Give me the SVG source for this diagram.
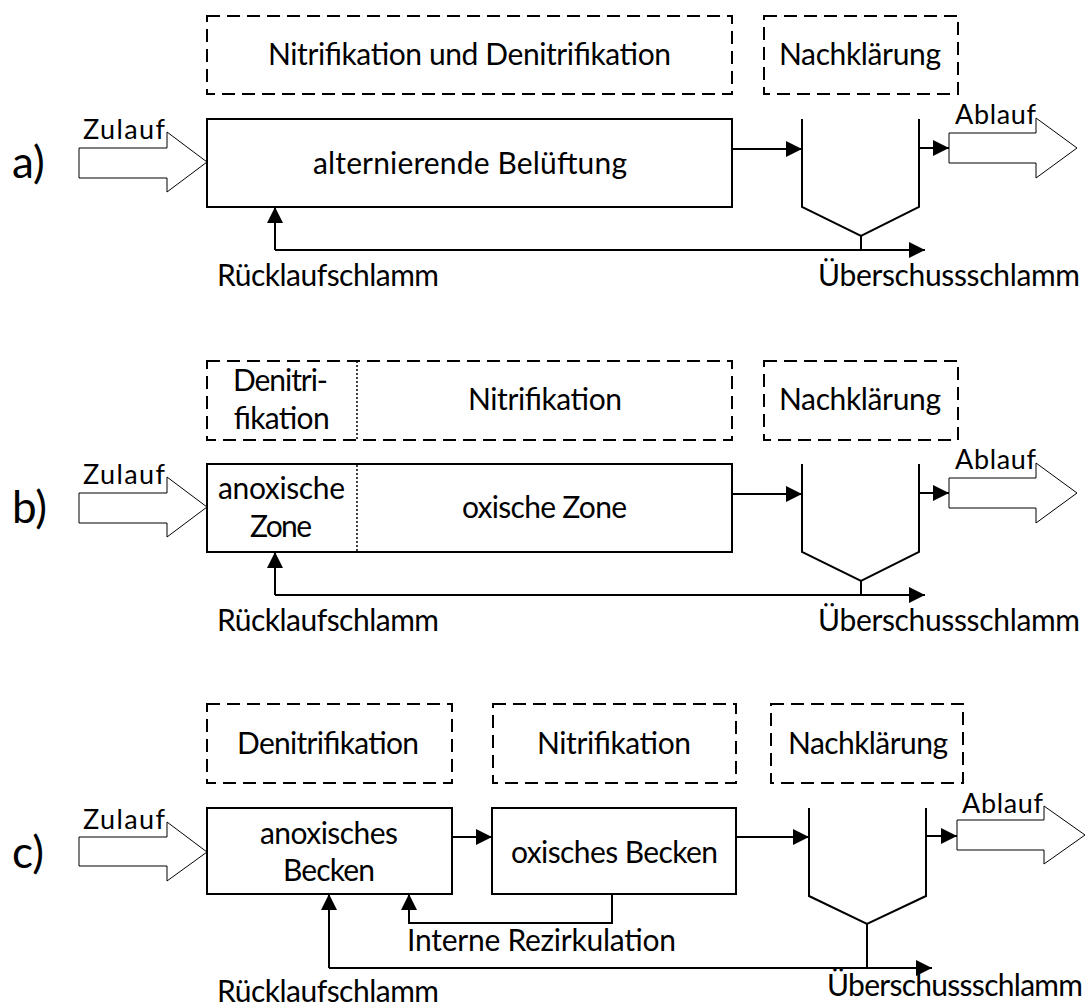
<svg xmlns="http://www.w3.org/2000/svg" width="1088" height="1007" viewBox="0 0 1088 1007">
<style>
text{font-family:Lato,"Liberation Sans",sans-serif;fill:#000}
.t{font-size:30px}
.s{font-size:27px}
.big{font-size:44px}
.box{fill:#fff;stroke:#000;stroke-width:2}
.dash{fill:none;stroke:#000;stroke-width:2;stroke-dasharray:13 7}
.dot{fill:none;stroke:#000;stroke-width:1.5;stroke-dasharray:2 2}
.ln{fill:none;stroke:#000;stroke-width:2}
.hol{fill:#fff;stroke:#000;stroke-width:1}
</style>
<defs>
<marker id="ah" viewBox="0 0 16 16" refX="16" refY="8" markerWidth="16" markerHeight="16" markerUnits="userSpaceOnUse" orient="auto">
<path d="M0,0 L16,8 L0,16 Z" fill="#000"/>
</marker>
</defs>

<!-- ===== a) ===== -->
<g id="label-a"><text class="big" x="12" y="178">a)</text></g>
<g id="a-zone-nd"><rect class="dash" x="207" y="16" width="525" height="78"/><text class="t" x="268" y="65" textLength="403">Nitrifikation und Denitrifikation</text></g>
<g id="a-zone-nk"><rect class="dash" x="764" y="16" width="194" height="78"/><text class="t" x="779" y="65" textLength="162">Nachklärung</text></g>
<g id="a-zulauf"><path class="hol" d="M79,148 H167 V132 L207,162 L167,192 V178 H79 Z"/><text class="s" x="83" y="139" textLength="82">Zulauf</text></g>
<g id="a-becken"><rect class="box" x="207" y="119" width="525" height="88"/><text class="t" x="313" y="174" textLength="314">alternierende Belüftung</text></g>
<g id="a-nk"><path class="ln" d="M802,119 V207 L861,236 L919,207 V119"/></g>
<g id="a-ablauf"><path class="hol" d="M949,133 H1036 V118 L1077,148 L1036,178 V163 H949 Z"/><text class="s" x="955" y="124" textLength="81">Ablauf</text></g>
<g id="a-texts"><text class="t" x="217" y="286" textLength="222">Rücklaufschlamm</text><text class="t" x="818" y="286" textLength="262">Überschussschlamm</text></g>

<!-- ===== b) ===== -->
<g id="label-b"><text class="big" x="12" y="523">b)</text></g>
<g id="b-zone"><rect class="dash" x="207" y="361" width="525" height="79"/><line class="dot" x1="357" y1="361" x2="357" y2="440"/>
<text class="t" x="233" y="391" textLength="95">Denitri-</text><text class="t" x="233" y="429" textLength="96">fikation</text>
<text class="t" x="468" y="410" textLength="154">Nitrifikation</text></g>
<g id="b-zone-nk"><rect class="dash" x="764" y="361" width="194" height="79"/><text class="t" x="779" y="410" textLength="162">Nachklärung</text></g>
<g id="b-zulauf"><path class="hol" d="M79,493 H167 V477 L207,507 L167,537 V523 H79 Z"/><text class="s" x="83" y="484" textLength="82">Zulauf</text></g>
<g id="b-becken"><rect class="box" x="207" y="464" width="525" height="88"/><line class="dot" x1="357" y1="465" x2="357" y2="551"/>
<text class="t" x="218" y="499" textLength="127">anoxische</text><text class="t" x="250" y="537" textLength="62">Zone</text>
<text class="t" x="462" y="518" textLength="165">oxische Zone</text></g>
<g id="b-nk"><path class="ln" d="M802,464 V552 L861,581 L919,552 V464"/></g>
<g id="b-ablauf"><path class="hol" d="M949,478 H1036 V463 L1077,493 L1036,523 V508 H949 Z"/><text class="s" x="955" y="469" textLength="81">Ablauf</text></g>
<g id="b-texts"><text class="t" x="217" y="631" textLength="222">Rücklaufschlamm</text><text class="t" x="818" y="631" textLength="262">Überschussschlamm</text></g>

<!-- ===== c) ===== -->
<g id="label-c"><text class="big" x="12" y="868">c)</text></g>
<g id="c-zone-dn"><rect class="dash" x="207" y="704" width="245" height="79"/><text class="t" x="237" y="754" textLength="182">Denitrifikation</text></g>
<g id="c-zone-n"><rect class="dash" x="493" y="704" width="243" height="79"/><text class="t" x="537" y="754" textLength="154">Nitrifikation</text></g>
<g id="c-zone-nk"><rect class="dash" x="771" y="704" width="192" height="79"/><text class="t" x="788" y="754" textLength="160">Nachklärung</text></g>
<g id="c-zulauf"><path class="hol" d="M79,837 H167 V822 L207,852 L167,881 V866 H79 Z"/><text class="s" x="83" y="829" textLength="82">Zulauf</text></g>
<g id="c-anox"><rect class="box" x="207" y="808" width="245" height="86"/><text class="t" x="260" y="844" textLength="138">anoxisches</text><text class="t" x="283" y="881" textLength="92">Becken</text></g>
<g id="c-ox"><rect class="box" x="492" y="808" width="244" height="86"/><text class="t" x="511" y="863" textLength="207">oxisches Becken</text></g>
<g id="c-nk"><path class="ln" d="M809,808 V896 L867,924 L926,896 V808"/></g>
<g id="c-ablauf"><path class="hol" d="M957,820 H1044 V806 L1085,835 L1044,864 V850 H957 Z"/><text class="s" x="962" y="813" textLength="81">Ablauf</text></g>
<g id="c-texts"><text class="t" x="407" y="951" textLength="269">Interne Rezirkulation</text><text class="t" x="217" y="1002" textLength="222">Rücklaufschlamm</text><text class="t" x="827" y="996" textLength="256">Überschussschlamm</text></g>

<g id="connectors">
<!-- a -->
<line class="ln" x1="732" y1="149" x2="802" y2="149" marker-end="url(#ah)"/>
<line class="ln" x1="919" y1="148" x2="949" y2="148" marker-end="url(#ah)"/>
<line class="ln" x1="861" y1="236" x2="861" y2="250"/>
<path class="ln" d="M275,250 H925" marker-end="url(#ah)"/>
<path class="ln" d="M275,250 V207" marker-end="url(#ah)"/>
<!-- b -->
<line class="ln" x1="732" y1="494" x2="802" y2="494" marker-end="url(#ah)"/>
<line class="ln" x1="919" y1="493" x2="949" y2="493" marker-end="url(#ah)"/>
<line class="ln" x1="861" y1="581" x2="861" y2="595"/>
<path class="ln" d="M275,595 H925" marker-end="url(#ah)"/>
<path class="ln" d="M275,595 V552" marker-end="url(#ah)"/>
<!-- c -->
<line class="ln" x1="452" y1="837" x2="492" y2="837" marker-end="url(#ah)"/>
<line class="ln" x1="736" y1="837" x2="809" y2="837" marker-end="url(#ah)"/>
<line class="ln" x1="926" y1="836" x2="957" y2="836" marker-end="url(#ah)"/>
<line class="ln" x1="867" y1="924" x2="867" y2="968"/>
<path class="ln" d="M329,968 H932" marker-end="url(#ah)"/>
<path class="ln" d="M329,968 V894" marker-end="url(#ah)"/>
<path class="ln" d="M612,894 V923 H409 V894" marker-end="url(#ah)"/>
</g>
</svg>
